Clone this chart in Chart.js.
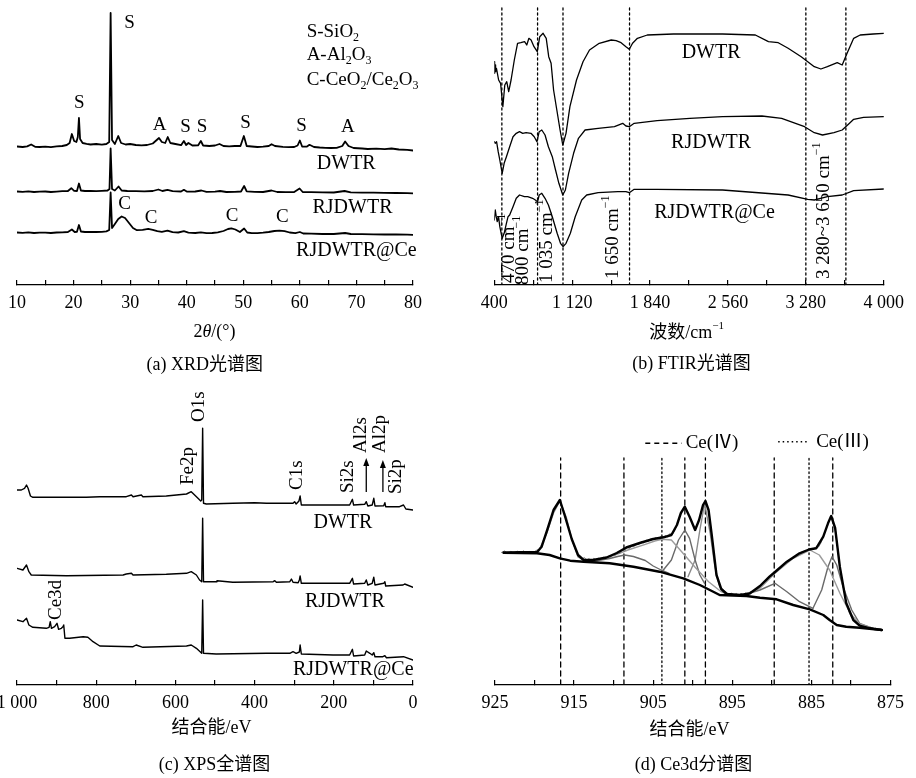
<!DOCTYPE html>
<html>
<head>
<meta charset="utf-8">
<script src="https://cdn.jsdelivr.net/npm/chart.js@4.4.0/dist/chart.umd.min.js"></script>
<style>
  html, body { margin: 0; padding: 0; background: #fff; width: 916px; height: 778px; overflow: hidden; position: relative; }
  canvas { position: absolute; }
</style>
</head>
<body>
<canvas id="xrd" width="478" height="380" style="left:-20px;top:0"></canvas>
<canvas id="ftir" width="458" height="380" style="left:458px;top:0"></canvas>
<canvas id="xps" width="478" height="388" style="left:-20px;top:390px"></canvas>
<canvas id="ce3d" width="458" height="388" style="left:458px;top:390px"></canvas>
<script>
const FONT = '"Liberation Serif", "Times New Roman", "Noto Sans CJK SC", serif';

// ---- (a) XRD: [2theta, intensity (offset)] ----
const xrdDWTR = [[10,138.5],[11,138],[11.8,138.6],[12.5,140.5],[13.2,138.2],[14,138],[15,138.4],[16,137.8],[17,138.6],[18,139],[18.8,140],[19.3,142],[19.7,151],[20.1,144],[20.5,143],[20.75,148],[20.95,167],[21.15,146],[21.6,142],[22.3,141.2],[23,140.5],[24,141],[25,140.3],[25.8,141],[26.3,143],[26.55,272],[26.8,145],[27.3,141],[27.9,149],[28.4,142],[29.2,140.5],[30,141],[31,140],[32,139.6],[33,140],[34,141.5],[34.7,145],[35.1,147],[35.6,143],[36.2,142],[36.65,148],[37.1,142],[38,141],[39,139.8],[39.5,144],[39.9,140],[40.3,142],[41,139.5],[42,139.6],[42.5,144],[42.9,139.5],[44,139],[45,139.5],[45.8,141],[46.5,139],[47.5,138.6],[48.5,139],[49.5,139],[50.1,149],[50.6,139],[51.5,138.5],[52.5,138],[53.5,138.3],[54.5,139],[55,140.8],[55.6,139],[57,138.2],[58,137.8],[59,138],[59.6,139.5],[60,144.5],[60.4,138.5],[61.2,138.3],[61.7,140.2],[62.5,138],[63.5,137.5],[64.5,137.2],[65.5,137],[66.5,137.2],[67.5,139],[68,143.5],[68.6,139],[69.5,137],[71,136.5],[72,136],[73.5,136.4],[75,135.8],[76.2,136.5],[77.5,135.5],[79,135.2],[80,134.5]];
const xrdRJDWTR = [[10,93.5],[11,93.2],[12,93.6],[13,93],[14,93.3],[15,93.5],[16,93],[17,93.4],[18,93.8],[19,94],[19.6,96.8],[20.1,94.2],[20.6,94],[20.95,101.5],[21.3,94.5],[22,94],[23,94.2],[24,93.8],[25,94.2],[26,94.5],[26.35,96],[26.55,136.5],[26.8,96],[27.3,94.5],[27.95,98.5],[28.5,94.5],[29.5,94],[31,93.8],[32.5,93.6],[34,94],[35,95.5],[35.7,94],[36.6,95.2],[37.5,93.8],[39,93.5],[39.5,95.2],[40,93.4],[41.5,93.5],[42.6,94.5],[43.5,93.2],[45,93.3],[45.9,94],[47,93],[48.5,93.2],[49.6,93.5],[50.15,99],[50.6,93.6],[52,93.2],[53.5,93],[55,94.5],[56,93],[57.5,92.8],[59,93],[59.95,96.5],[60.5,93],[62,92.8],[64,92.6],[66,92.5],[67.9,94],[69,92.6],[71,92.4],[73,92.3],[75,92.2],[77,92],[79,91.8],[80,91.6]];
const xrdCe = [[10,52.5],[11,52.2],[12,52.6],[13,52],[14,52.3],[15,52.4],[16,52],[17,52.5],[18,52.6],[19,53],[19.7,55.5],[20.2,53],[20.6,53.2],[20.95,60],[21.3,53.5],[22,53],[23,53.2],[24,53],[25,53.2],[25.8,53.6],[26.3,55],[26.55,92.5],[26.8,57],[27.3,61],[27.9,66],[28.5,68.5],[29.1,67],[29.8,62],[30.5,57],[31.2,54.8],[32.2,55.2],[33.2,56.2],[34,55.2],[34.8,53.8],[35.6,53.2],[36.6,54.3],[37.5,52.8],[38.5,52.5],[39.5,53.8],[40.3,52.4],[41.5,52],[42.5,52.6],[43.5,51.8],[44.5,52],[45.5,52.6],[46.5,54],[47.3,56],[47.9,56.6],[48.6,55.5],[49.4,53],[50.15,56.5],[50.7,52.5],[51.5,51.8],[52.5,51.8],[53.5,52.3],[54.5,53],[55.5,54],[56.4,54.4],[57.3,53.8],[58.2,52.5],[59.2,51.8],[60,53],[60.6,51.5],[62,51.3],[64,51],[66,51],[68,52],[69,51],[71,50.8],[73,50.7],[75,50.5],[77,50.6],[79,50.3],[80,50.2]];
const xrdTicks = [10,15,20,25,30,35,40,45,50,55,60,65,70,75,80];
const xrdTickLabels = ['10','','20','','30','','40','','50','','60','','70','','80'];

// ---- (b) FTIR: [wavenumber, transmittance (offset)] ----
const ftirDWTR = [[400,223.3],[403,211.7],[407,220],[412,213.3],[420,216.7],[440,205],[458,201.7],[479,178.3],[497,200],[515,203.3],[533,193.3],[555,205],[585,225],[615,241.7],[645,242.3],[680,243.3],[700,240],[720,246.7],[740,245],[767,238.3],[797,233.3],[820,248.3],[851,251.7],[880,246.7],[903,228.3],[925,221.7],[948,195],[978,175],[1008,155],[1033,140],[1063,151.7],[1099,178.3],[1160,205],[1220,223.3],[1280,235],[1370,241.7],[1481,245],[1526,244.3],[1572,242.3],[1617,238.3],[1648,235.7],[1678,241.7],[1723,246.7],[1814,250],[2056,251],[2510,251],[2813,250],[2934,243.3],[3025,242.3],[3116,236.7],[3237,228.3],[3358,218.3],[3419,216],[3479,218.3],[3570,222.3],[3616,220],[3661,231.7],[3722,246.7],[3782,250],[3903,251],[4000,251.7]];
const ftirRJDWTR = [[400,143.3],[409,141.7],[421,143.3],[436,133.3],[451,125],[473,111.7],[491,121.7],[512,128.3],[542,138.3],[573,148.3],[603,151.7],[633,153.3],[663,151.7],[694,152.3],[739,151.7],[769,148.3],[794,143.3],[815,153.3],[839,155],[869,150],[900,138.3],[936,128.3],[966,115],[997,101.7],[1033,90],[1057,95],[1087,111.7],[1133,131.7],[1178,146.7],[1239,155],[1360,156.7],[1511,158.3],[1587,161.7],[1617,159],[1648,158.3],[1693,161.7],[1905,164.3],[2208,166.7],[2510,168.3],[2874,169],[3056,166.7],[3268,158.3],[3358,152.3],[3434,150],[3540,152.3],[3616,155],[3676,161],[3722,165.7],[3813,167.7],[4000,168.3]];
const ftirCe = [[400,65],[409,75],[418,68.3],[427,63.3],[439,68.3],[451,58.3],[473,46.7],[491,51.7],[512,61.7],[527,68.3],[542,70],[573,78.3],[603,86.7],[633,90],[679,88.3],[709,88.3],[754,86.7],[779,85],[800,83.3],[815,90],[839,91.7],[869,86.7],[900,80],[936,68.3],[981,51.7],[1012,41.7],[1036,38.3],[1063,41.7],[1103,51.7],[1148,68.3],[1208,85],[1254,90],[1360,92.3],[1542,93.3],[1617,93.3],[1648,92.3],[1693,95.7],[1905,95.7],[2510,95],[3116,90],[3298,85.7],[3358,85],[3479,88.3],[3616,90],[3722,94.3],[4000,96]];
const ftirMarks = [470,800,1035,1650,3280,3650];
const ftirTicks = [400,760,1120,1480,1840,2200,2560,2920,3280,3640,4000];
const ftirTickLabels = ['400','','1 120','','1 840','','2 560','','3 280','','4 000'];

// ---- (c) XPS survey: [binding energy, counts (offset)] ----
const xpsDWTR = [[1000,195],[989,195],[981,196.7],[976,200],[972,196.7],[966,189],[960,187.7],[875,187.7],[825,187.7],[791,188.3],[724,188.3],[711,190],[707,188.3],[686,190],[682,188.3],[623,189],[572,191],[560,193.3],[556,191.7],[543,186.7],[536,184],[533.5,185],[531.2,256.7],[529,181.7],[522,181],[455,181.7],[400,182.3],[370,181.7],[303,181.7],[299,183.3],[295,181],[288,184],[285,189],[282,180],[244,180],[160,180],[153,185.7],[150,180],[122,180.7],[118,183.3],[114,179],[103,180],[99,186.7],[96,179],[74,179.3],[71,182.3],[69,178.3],[34,178.3],[24,180],[18,176],[0,175]];
const xpsRJDWTR = [[1000,116.7],[985,115],[976,120],[970,113.3],[964,110],[875,109.3],[732,110],[724,111],[711,111.7],[707,110],[623,110.7],[572,111.7],[560,113.3],[547,110],[539,105],[533.5,103.3],[531.2,166.7],[529,103.3],[497,103.3],[495,104.3],[455,102.7],[353,103.3],[349,104.3],[345,102.7],[311,103.3],[307,106],[303,102.7],[290,102.3],[287,105],[285,109],[282,101.7],[160,101.7],[153,106.7],[150,101],[122,101.7],[118,105],[114,100],[103,101.7],[99,107.7],[96,100],[74,101.7],[71,103.3],[69,99],[25,100],[21,101],[0,97.7]];
const xpsCe = [[1000,65],[985,63.3],[976,66.7],[970,60],[960,57.7],[926,56.7],[919,57.7],[916,63.3],[913,56.7],[905,58.3],[899,61.7],[895,55.7],[888,56.7],[884,58.3],[882,60],[879,46.7],[867,46.7],[833,48.3],[821,47.7],[808,43.3],[791,39],[707,38.3],[699,40],[682,37.7],[572,39],[560,40],[547,36.7],[533.5,31.7],[531.2,85],[529,31.7],[497,31],[370,31.7],[311,31.7],[303,33.3],[295,31.7],[287,33],[285,40],[282,31],[202,30],[160,30],[153,35.7],[150,29],[122,30],[118,34],[109,31.7],[103,30],[99,32.3],[96,28.3],[76,28.3],[71,29.3],[67,27.3],[24,28.3],[0,25]];
const xpsTicks = [1000,900,800,700,600,500,400,300,200,100,0];
const xpsTickLabels = ['1 000','','800','','600','','400','','200','','0'];

// ---- (d) Ce3d: [binding energy, counts] ----
const ceRaw = [[924.2,132.5],[923.8,134],[923.4,131.5],[923,133.6],[922.6,131.8],[922.2,133.9],[921.8,132],[921.4,134.2],[921,131.7],[920.6,133.6],[920.2,132.3],[919.8,134.5],[919.4,136],[919.1,138.5],[918.4,155],[917.6,175],[916.8,185],[916.2,170],[915.3,146],[914.7,133],[914.3,128.5],[914,126],[913.7,127.5],[913.4,124.5],[913.1,126.5],[912.8,124],[912.5,126.8],[912.2,124.5],[911.9,127],[911.6,125.5],[911.3,128],[911,126.3],[910.7,129],[910.4,127.5],[910.1,130.5],[909.8,129.5],[909.5,133],[909.2,131.5],[908.9,135],[908.6,133.8],[908.3,138],[908,136.5],[907.7,139.5],[907.4,138.5],[907.1,141.5],[906.8,140.5],[906.5,143.5],[906.2,142],[905.9,145],[905.6,143.5],[905.3,146.5],[905,145.5],[904.7,147.5],[904.4,146],[904.1,148.5],[903.8,147],[903.5,149.5],[903.2,148],[902.9,151.5],[902.6,150],[902.3,154],[902,160],[901.5,172],[901,178.3],[900.4,168.3],[899.7,155],[899.2,165],[898.7,180],[898.4,184],[898,175],[897.6,150],[897,110],[896.6,99],[896.3,95.5],[896,93.5],[895.7,92.5],[895.4,90],[895.1,92],[894.8,89.5],[894.5,91.5],[894.2,89.8],[893.9,91.8],[893.6,90.3],[893.3,92.2],[893,91],[892.7,93],[892.4,92.8],[892.1,95.5],[891.8,96],[891.5,99],[891.2,100.5],[890.9,103],[890.6,104.5],[890.3,108.5],[890,109.5],[889.6,113],[889.2,116.5],[888.8,117.5],[888.4,121.5],[888.1,123.3],[887.7,126],[887.3,126.5],[886.9,129.5],[886.5,131.7],[886.1,133.5],[885.7,133.8],[885.3,136],[884.9,135.5],[884.5,137.5],[884.1,138],[883.8,142],[883.5,148.3],[882.9,161.7],[882.5,169],[882,157],[881.4,118],[880.6,82],[880.2,72],[879.9,67.5],[879.6,64.5],[879.3,62.5],[879,60],[878.7,59.5],[878.4,57.5],[878.1,58.5],[877.8,56.5],[877.5,57.5],[877.2,55.8],[876.9,56.8],[876.6,55.2],[876.3,56],[876.1,55]];
const ceEnvelope = [[923.9,132.3],[921.8,132.8],[919.7,132.8],[919.1,138.3],[918.4,155],[917.6,175],[916.8,185],[916.2,170],[915.3,146],[914.5,130],[913.8,125],[912.6,125],[910.9,127.5],[909.6,132],[908.4,137.5],[906.7,142],[905,146],[903.7,147.7],[902.7,150],[902,160],[901.5,172],[901,178.3],[900.4,168.3],[899.7,155],[899.2,165],[898.7,180],[898.4,184],[898,175],[897.6,150],[897,110],[896.4,96],[895.7,91],[894,90],[892.8,91.5],[891.5,99],[890.3,108.3],[889.6,113],[888.1,123.3],[886.5,131.7],[885.3,135.5],[884.4,136.7],[883.5,148.3],[882.9,161.7],[882.5,169],[882,157],[881.4,118],[880.6,82],[879.7,65],[878.9,59.3],[877.6,56.7],[876.1,55]];
const ceBackground = [[923.9,132.3],[919.7,131.7],[918.1,130],[916.8,126.7],[915.5,124.3],[913.8,123.3],[910.5,121.7],[907.5,118.3],[904.2,113.3],[901.2,106.7],[899.1,100],[897.4,93.3],[896.6,90],[893.2,89],[891.5,87.3],[889.4,85.7],[887.3,80],[885.2,75.7],[883.5,70],[882.7,65],[881.8,60],[880.6,58.3],[878.9,57.3],[876.1,55]];
const cePeak917 = [[921,132],[919.5,133.5],[918.5,151],[917.6,172],[916.8,184],[916,168],[915.3,146],[914.5,128],[913.5,123.5]];
const cePeak909 = [[913.5,123.5],[912,124.5],[910.5,126.5],[909.5,128.5],[908.6,130],[907.5,128.5],[906,124.5],[905,119],[904,115],[903,111.5]];
const cePeak904 = [[912.4,123.5],[911.1,126.7],[909.5,131],[908.2,135],[906,140.7],[904.8,144],[903.9,145.7],[902.7,145],[901.4,133.3],[899.7,117.7],[898,103.3],[896.4,93.3],[895.5,90]];
const cePeak901 = [[903.9,113.3],[902.7,125],[901.8,145],[901,155],[900.4,146.7],[899.7,125],[899.1,110],[898.5,101.7]];
const cePeak898 = [[900.6,108.3],[899.7,125],[899.1,155],[898.5,181.7],[897.8,152],[897.2,118.3],[896.6,98.3],[895.7,91.7],[894.9,90]];
const cePeak890 = [[893.6,90],[891.5,95],[889.6,101.7],[888.1,93.3],[886.5,83.3],[884.8,76.7]];
const cePeak885 = [[893.6,90],[891.5,96.7],[889.6,111.7],[887.3,126.7],[885.2,135],[884,130],[882.7,115],[881.4,91.7],[880.1,71.7],[878.9,61],[877.2,56.7]];
const cePeak882 = [[884.8,76.7],[883.7,95],[882.9,118.3],[882.4,128.3],[881.8,120],[881,98.3],[879.9,75],[878.9,61.7],[877.2,56.7]];
const ceIV = [916.7,908.7,901.0,898.4,889.7,882.3];
const ceIII = [903.9,885.3];
const ceTicks = [925,920,915,910,905,900,895,890,885,880,875];
const ceTickLabels = ['925','','915','','905','','895','','885','','875'];

// text with _{sub}, ^{sup}, *italic*
function drawRich(ctx, text, size, align) {
  const segs = [];
  const re = /_\{([^}]*)\}|\^\{([^}]*)\}|\*([^*]*)\*|([^_^*]+)/g;
  let m;
  while ((m = re.exec(text))) {
    if (m[1] !== undefined) segs.push({ s: m[1], k: 'sub' });
    else if (m[2] !== undefined) segs.push({ s: m[2], k: 'sup' });
    else if (m[3] !== undefined) segs.push({ s: m[3], k: 'it' });
    else segs.push({ s: m[4], k: '' });
  }
  const fontOf = k => (k === 'it' ? 'italic ' : '') + Math.round(k === 'sub' || k === 'sup' ? size * 0.62 : size) + 'px ' + FONT;
  let w = 0;
  segs.forEach(g => { ctx.font = fontOf(g.k); g.w = ctx.measureText(g.s).width; w += g.w; });
  let x = align === 'left' ? 0 : align === 'right' ? -w : -w / 2;
  ctx.textBaseline = 'middle';
  ctx.textAlign = 'left';
  ctx.fillStyle = '#000';
  segs.forEach(g => {
    ctx.font = fontOf(g.k);
    const dy = g.k === 'sub' ? size * 0.32 : g.k === 'sup' ? -size * 0.36 : 0;
    ctx.fillText(g.s, x, dy);
    x += g.w;
  });
}

const notesPlugin = {
  id: 'notes',
  afterDatasetsDraw(chart, args, opts) {
    const ctx = chart.ctx, xs = chart.scales.x, ys = chart.scales.y;
    (opts.items || []).forEach(n => {
      const px = xs.getPixelForValue(n.x);
      const py = n.dy !== undefined ? chart.chartArea.bottom + n.dy : ys.getPixelForValue(n.y);
      ctx.save();
      ctx.translate(px, py);
      if (n.rot) ctx.rotate(-Math.PI / 2);
      drawRich(ctx, n.t, n.size || 19, n.align || 'center');
      ctx.restore();
    });
    (opts.arrows || []).forEach(a => {
      const px = xs.getPixelForValue(a.x), y1 = ys.getPixelForValue(a.y1), y2 = ys.getPixelForValue(a.y2);
      ctx.save();
      ctx.strokeStyle = '#000'; ctx.fillStyle = '#000'; ctx.lineWidth = 1.3;
      ctx.beginPath(); ctx.moveTo(px, y1); ctx.lineTo(px, y2 + 6); ctx.stroke();
      ctx.beginPath(); ctx.moveTo(px, y2); ctx.lineTo(px - 3, y2 + 8); ctx.lineTo(px + 3, y2 + 8); ctx.closePath(); ctx.fill();
      ctx.restore();
    });
    (opts.keys || []).forEach(k => {
      const xa = xs.getPixelForValue(k.x1), xb = xs.getPixelForValue(k.x2), py = ys.getPixelForValue(k.y);
      ctx.save();
      ctx.strokeStyle = '#000'; ctx.lineWidth = 1.4; ctx.setLineDash(k.dash);
      ctx.beginPath(); ctx.moveTo(xa, py); ctx.lineTo(xb, py); ctx.stroke();
      ctx.restore();
      ctx.save();
      ctx.translate(xs.getPixelForValue(k.tx), py);
      drawRich(ctx, k.t, 19, 'left');
      ctx.restore();
    });
  }
};

const pts = arr => arr.map(p => ({ x: p[0], y: p[1] }));
const curve = (arr, color, width) => ({ data: pts(arr), borderColor: color, borderWidth: width, pointRadius: 0, fill: false });
const vline = (x, top, dash) => ({ data: [{ x: x, y: 0 }, { x: x, y: top }], borderColor: '#000', borderWidth: 1.3, borderDash: dash, pointRadius: 0, fill: false });

function makeChart(id, c) {
  return new Chart(document.getElementById(id), {
    type: 'line',
    data: { datasets: c.datasets },
    options: {
      responsive: false,
      animation: false,
      devicePixelRatio: 1,
      layout: { padding: { left: c.padL, right: c.padR, top: 0, bottom: 0 } },
      elements: { line: { tension: 0, borderJoinStyle: 'round', borderCapStyle: 'round' } },
      plugins: { legend: { display: false }, tooltip: { enabled: false }, notes: c.notes },
      scales: {
        x: {
          type: 'linear', min: c.min, max: c.max, reverse: !!c.reverse,
          afterFit: s => { s.height = c.axisH; },
          afterBuildTicks: s => { s.ticks = c.ticks.map(v => ({ value: v })); },
          ticks: {
            autoSkip: false, maxRotation: 0, padding: 12, color: '#000',
            font: { family: FONT, size: 18 },
            callback: v => c.labels[c.ticks.indexOf(v)] || ''
          },
          grid: { drawOnChartArea: false, tickLength: -5, color: '#000', lineWidth: 1.2 },
          border: { color: '#000', width: 1.2 }
        },
        y: { type: 'linear', display: false, min: 0, max: c.yMax }
      }
    },
    plugins: [notesPlugin]
  });
}

// (a) XRD
makeChart('xrd', {
  padL: 37, padR: 45, axisH: 95, yMax: 285, min: 10, max: 80,
  ticks: xrdTicks, labels: xrdTickLabels,
  datasets: [curve(xrdDWTR, '#000', 1.8), curve(xrdRJDWTR, '#000', 1.8), curve(xrdCe, '#000', 1.8)],
  notes: {
    items: [
      { t: 'S', x: 21.0, y: 182 }, { t: 'S', x: 29.9, y: 262 }, { t: 'A', x: 35.2, y: 160 },
      { t: 'S', x: 39.8, y: 158 }, { t: 'S', x: 42.7, y: 158 }, { t: 'S', x: 50.4, y: 162 },
      { t: 'S', x: 60.3, y: 159 }, { t: 'A', x: 68.5, y: 158 },
      { t: 'C', x: 29.0, y: 81 }, { t: 'C', x: 33.7, y: 67 }, { t: 'C', x: 48.0, y: 69 }, { t: 'C', x: 56.9, y: 68 },
      { t: 'DWTR', x: 68.2, y: 121, size: 20 }, { t: 'RJDWTR', x: 69.3, y: 77, size: 20 }, { t: 'RJDWTR@Ce', x: 70, y: 34, size: 20 },
      { t: 'S-SiO_{2}', x: 61.2, y: 253, align: 'left' },
      { t: 'A-Al_{2}O_{3}', x: 61.2, y: 230, align: 'left' },
      { t: 'C-CeO_{2}/Ce_{2}O_{3}', x: 61.2, y: 205, align: 'left' },
      { t: '2*θ*/(°)', x: 44.9, dy: 47, size: 18 },
      { t: '(a) XRD光谱图', x: 43.2, dy: 80, size: 18 }
    ]
  }
});

// (b) FTIR
makeChart('ftir', {
  padL: 36.3, padR: 25.3, axisH: 95, yMax: 285, min: 400, max: 4000,
  ticks: ftirTicks, labels: ftirTickLabels,
  datasets: [curve(ftirDWTR, '#000', 1.3), curve(ftirRJDWTR, '#000', 1.3), curve(ftirCe, '#000', 1.3)]
    .concat(ftirMarks.map(x => vline(x, 278, [2, 3]))),
  notes: {
    items: [
      { t: 'DWTR', x: 2404, y: 232, size: 20 }, { t: 'RJDWTR', x: 2404, y: 142, size: 20 }, { t: 'RJDWTR@Ce', x: 2435, y: 72, size: 20 },
      { t: '470 cm^{−1}', x: 534, y: 2, rot: true, align: 'left' },
      { t: '800 cm^{−1}', x: 670, y: 0, rot: true, align: 'left' },
      { t: '1 035 cm^{−1}', x: 888, y: 2, rot: true, align: 'left' },
      { t: '1 650 cm^{−1}', x: 1494, y: 6, rot: true, align: 'left' },
      { t: '3 280~3 650 cm^{−1}', x: 3444, y: 6, rot: true, align: 'left' },
      { t: '波数/cm^{−1}', x: 2177, dy: 48, size: 18 },
      { t: '(b) FTIR光谱图', x: 2223, dy: 79, size: 18 }
    ]
  }
});

// (c) XPS survey
makeChart('xps', {
  padL: 37, padR: 45, axisH: 93, yMax: 295, min: 0, max: 1000, reverse: true,
  ticks: xpsTicks, labels: xpsTickLabels,
  datasets: [curve(xpsDWTR, '#000', 1.4), curve(xpsRJDWTR, '#000', 1.4), curve(xpsCe, '#000', 1.4)],
  notes: {
    items: [
      { t: 'Fe2p', x: 568, y: 200, rot: true, align: 'left' },
      { t: 'O1s', x: 540, y: 263, rot: true, align: 'left' },
      { t: 'C1s', x: 292, y: 195, rot: true, align: 'left' },
      { t: 'Si2s', x: 164, y: 192, rot: true, align: 'left' },
      { t: 'Al2s', x: 132, y: 232, rot: true, align: 'left' },
      { t: 'Al2p', x: 84, y: 232, rot: true, align: 'left' },
      { t: 'Si2p', x: 42, y: 191, rot: true, align: 'left' },
      { t: 'Ce3d', x: 901, y: 65, rot: true, align: 'left' },
      { t: 'DWTR', x: 177, y: 162, size: 20 }, { t: 'RJDWTR', x: 172, y: 83, size: 20 }, { t: 'RJDWTR@Ce', x: 151, y: 15, size: 20 },
      { t: '结合能/eV', x: 509, dy: 43, size: 18 },
      { t: '(c) XPS全谱图', x: 501, dy: 80, size: 18 }
    ],
    arrows: [{ x: 118, y1: 193, y2: 227 }, { x: 76, y1: 193, y2: 225 }]
  }
});

// (d) Ce3d
makeChart('ce3d', {
  padL: 37, padR: 25.3, axisH: 93, yMax: 295, min: 875, max: 925, reverse: true,
  ticks: ceTicks, labels: ceTickLabels,
  datasets: [curve(ceEnvelope, '#000', 2.4), curve(ceBackground, '#000', 2.4), curve(ceRaw, '#7a7a7a', 1),
    curve(cePeak917, '#8a8a8a', 1.4), curve(cePeak909, '#6a6a6a', 1.4), curve(cePeak904, '#9c9c9c', 1.4),
    curve(cePeak901, '#6a6a6a', 1.4), curve(cePeak898, '#8a8a8a', 1.4), curve(cePeak890, '#6a6a6a', 1.4),
    curve(cePeak885, '#9c9c9c', 1.4), curve(cePeak882, '#6a6a6a', 1.4)]
    .concat(ceIV.map(x => vline(x, 227, [5, 4])))
    .concat(ceIII.map(x => vline(x, 227, [1.5, 3]))),
  notes: {
    keys: [
      { x1: 906.0, x2: 901.4, y: 241.7, dash: [5, 4], t: 'Ce(Ⅳ)', tx: 900.9 },
      { x1: 889.2, x2: 885.4, y: 243.3, dash: [1.5, 3], t: 'Ce(Ⅲ)', tx: 884.4 }
    ],
    items: [
      { t: '结合能/eV', x: 900.4, dy: 45, size: 18 },
      { t: '(d) Ce3d分谱图', x: 899.9, dy: 80, size: 18 }
    ]
  }
});
</script>
</body>
</html>
